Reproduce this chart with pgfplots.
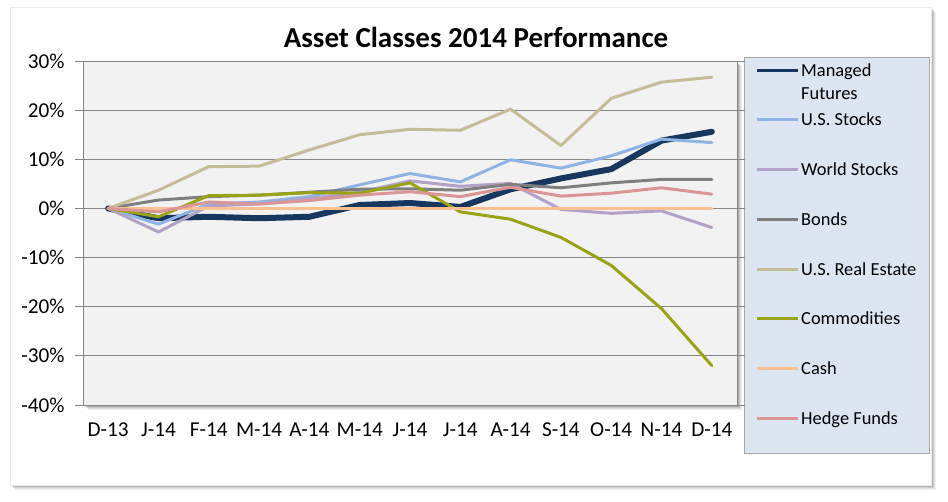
\documentclass[border=0pt]{standalone}
\usepackage{pgfplots}
\pgfplotsset{compat=1.18}
\usepackage{fontspec}
\setmainfont{Carlito}
\definecolor{cMF}{HTML}{17375E}
\definecolor{cUSS}{HTML}{8DB4E2}
\definecolor{cWS}{HTML}{B3A2C7}
\definecolor{cBD}{HTML}{7F7F7F}
\definecolor{cRE}{HTML}{C4BD97}
\definecolor{cCM}{HTML}{98A415}
\definecolor{cCS}{HTML}{FAC090}
\definecolor{cHF}{HTML}{D99694}
\definecolor{gridc}{HTML}{868686}
\definecolor{plotbg}{HTML}{F2F2F2}
\definecolor{legbg}{HTML}{DCE6F2}
\begin{document}
\begin{tikzpicture}[x=1pt,y=1pt]
\useasboundingbox (0,0) rectangle (948,502);
% outer frame with shadow
\foreach \o/\op in {5/0.05,4/0.07,3/0.09,2/0.11}{
  \fill[black,opacity=\op] (10+\o,17-\o) rectangle (931+\o,495-\o);
}
\fill[white] (10,17) rectangle (931,495);
\draw[black!8] (10,17) rectangle (931,495);
% plot area shadow
\foreach \o/\op in {5/0.06,4/0.08,3/0.1,2/0.12}{
  \fill[black,opacity=\op] (83+\o,97-\o) rectangle (737+\o,441-\o);
}
% legend box
\fill[legbg] (744,49) rectangle (929,445);
\draw[black!35, line width=0.8pt] (744,49) rectangle (929,445);
% title
\node[font=\fontsize{29}{35}\selectfont\bfseries] at (476,465) {Asset Classes 2014 Performance};
\begin{axis}[
  at={(83pt,97pt)}, anchor=south west, scale only axis,
  width=654pt, height=344pt,
  xmin=-0.5, xmax=12.5, ymin=-40, ymax=30,
  xtick={0,...,12},
  xticklabels={D-13,J-14,F-14,M-14,A-14,M-14,J-14,J-14,A-14,S-14,O-14,N-14,D-14},
  ytick={-40,-30,...,30},
  yticklabels={-40\%,-30\%,-20\%,-10\%,0\%,10\%,20\%,30\%},
  ymajorgrids, grid style={gridc, line width=0.8pt},
  axis line style={gridc, line width=0.8pt},
  axis background/.style={fill=plotbg},
  tick align=outside, major tick length=8pt,
  xtick style={draw=none}, ytick style={gridc, line width=0.8pt},
  every tick label/.append style={font=\fontsize{21.2}{25}\selectfont, text=black},
  xticklabel style={anchor=center, yshift=-17pt},
  yticklabel style={anchor=east, xshift=-7pt},
  legend cell align=left,
  legend style={draw=none, fill=none, at={(1.02752,1.00291)}, anchor=north west,
    inner sep=0pt, row sep=29.75pt, column sep=2pt,
    nodes={inner sep=0pt, text depth=0pt},
    font=\fontsize{18.4}{23}\selectfont},
  legend image code/.code={\draw[#1,line width=3pt,line cap=butt] (0pt,0pt) -- (41pt,0pt); \path[draw=none] (0pt,-10pt) -- (0pt,10pt);},
  every axis plot/.append style={line join=round, line cap=round, line width=3pt, mark=none},
]
\addplot[cMF, line width=6pt] coordinates {(0,0) (1,-2.0) (2,-1.7) (3,-2.0) (4,-1.7) (5,0.7) (6,1.1) (7,0.3) (8,3.9) (9,6.1) (10,8.0) (11,13.8) (12,15.6)};
\addlegendentry{\raisebox{-6pt}[0pt][0pt]{\vtop{\hbox{Managed}\hbox{Futures}}}}
\addplot[cUSS] coordinates {(0,0) (1,-3.2) (2,0.9) (3,1.3) (4,2.4) (5,4.8) (6,7.1) (7,5.4) (8,9.9) (9,8.2) (10,10.7) (11,14.1) (12,13.4)};
\addlegendentry{\raisebox{-6pt}[0pt][0pt]{U.S. Stocks}}
\addplot[cWS] coordinates {(0,0) (1,-4.8) (2,0.5) (3,0.9) (4,2.0) (5,3.3) (6,5.6) (7,4.5) (8,5.1) (9,-0.2) (10,-1.0) (11,-0.5) (12,-3.9)};
\addlegendentry{\raisebox{-6pt}[0pt][0pt]{World Stocks}}
\addplot[cBD] coordinates {(0,0) (1,1.7) (2,2.4) (3,2.7) (4,3.3) (5,3.9) (6,4.0) (7,3.7) (8,4.9) (9,4.2) (10,5.2) (11,5.9) (12,5.9)};
\addlegendentry{\raisebox{-6pt}[0pt][0pt]{Bonds}}
\addplot[cRE] coordinates {(0,0) (1,3.7) (2,8.5) (3,8.6) (4,11.9) (5,15.0) (6,16.1) (7,15.9) (8,20.2) (9,12.8) (10,22.4) (11,25.7) (12,26.7)};
\addlegendentry{\raisebox{-6pt}[0pt][0pt]{U.S. Real Estate}}
\addplot[cCM] coordinates {(0,0) (1,-1.7) (2,2.6) (3,2.7) (4,3.2) (5,3.1) (6,5.2) (7,-0.7) (8,-2.2) (9,-5.9) (10,-11.6) (11,-20.4) (12,-32.0)};
\addlegendentry{\raisebox{-6pt}[0pt][0pt]{Commodities}}
\addplot[cCS] coordinates {(0,0) (1,0) (2,0) (3,0) (4,0) (5,0) (6,0) (7,0) (8,0) (9,0) (10,0) (11,0) (12,0)};
\addlegendentry{\raisebox{-6pt}[0pt][0pt]{Cash}}
\addplot[cHF] coordinates {(0,0) (1,-0.7) (2,1.3) (3,0.9) (4,1.6) (5,2.7) (6,3.4) (7,2.4) (8,4.3) (9,2.5) (10,3.1) (11,4.2) (12,2.9)};
\addlegendentry{\raisebox{-6pt}[0pt][0pt]{Hedge Funds}}
\end{axis}
\end{tikzpicture}
\end{document}
